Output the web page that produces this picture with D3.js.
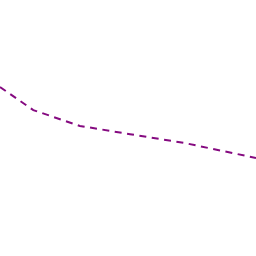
<!DOCTYPE html>
<html>
<head>
<meta charset="utf-8">
<script src="https://cdn.jsdelivr.net/npm/d3@7"></script>
<style>
  body { margin: 0; background: #fff; }
</style>
</head>
<body>
<svg id="chart"></svg>
<script>
const xValues = [0, 13, 31.2, 50.8, 72.3, 100];
const yValues = [66, 57, 50.8, 47.6, 44.1, 38.3];

const width = 256;
const height = 256;

const svg = d3.select("#chart")
    .attr("width", width)
    .attr("height", height);

const xScale = d3.scaleLinear().domain([0, 100]).range([0, 256]);
const yScale = d3.scaleLinear().domain([0, 100]).range([256, 0]);

const points = xValues.map((x, i) => [x, yValues[i]]);

const line = d3.line()
    .x(d => xScale(d[0]))
    .y(d => yScale(d[1]));

svg.append("path")
    .datum(points)
    .attr("d", line)
    .attr("fill", "none")
    .attr("stroke", "#850a80")
    .attr("stroke-width", 2)
    .attr("stroke-dasharray", "7,5.5");
</script>
</body>
</html>
